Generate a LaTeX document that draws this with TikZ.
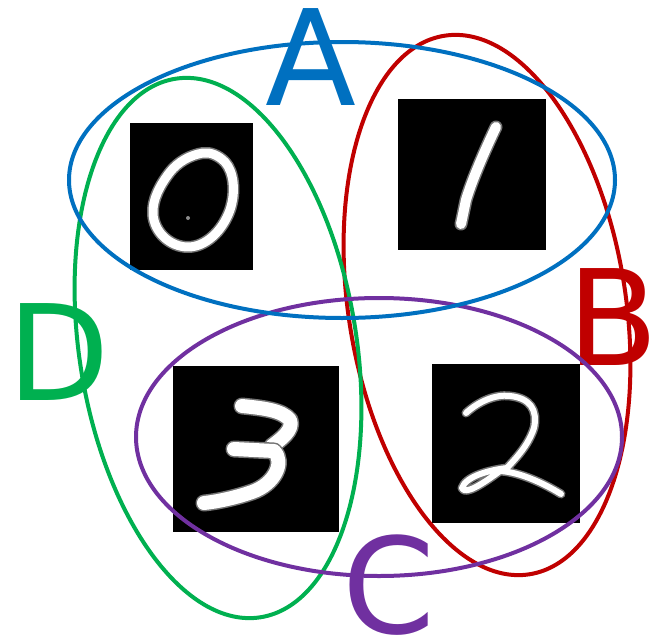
\documentclass[tikz,border=0pt]{standalone}
\usepackage{fontspec}
\setmainfont{DejaVu Sans}
\usepackage{tikz}
\usetikzlibrary{positioning}
\definecolor{setA}{HTML}{0070C0}
\definecolor{setB}{HTML}{C00000}
\definecolor{setC}{HTML}{7030A0}
\definecolor{setD}{HTML}{00B050}
\begin{document}
\begin{tikzpicture}[
        x=1pt, y=-1pt,
        setline/.style={line width=4pt},
        setlabel/.style={font=\fontsize{133}{133}\selectfont, inner sep=0pt, anchor=base},
        imgbox/.style={fill=black, inner sep=0pt, anchor=north west},
        digit/.style={preaction={draw=white!45!black, line width=#1+3pt, line cap=round, line join=round}, draw=white, line width=#1, line cap=round, line join=round}
    ]
    \useasboundingbox (0,0) rectangle (651,637);

    % Bilder (Ziffern)
    \node[imgbox, minimum width=123pt, minimum height=147pt] (imgzero) at (130,123) {};
    \node[imgbox, minimum width=148pt, minimum height=151pt] (imgone) at (398,99) {};
    \node[imgbox, minimum width=166pt, minimum height=166pt] (imgthree) at (173,366) {};
    \node[imgbox, minimum width=148pt, minimum height=159pt] (imgtwo) at (432,364) {};

    % Ziffer 0
    \draw[digit=9pt] (203,153) .. controls (190,155) and (178,162) .. (170,172)
        .. controls (160,185) and (152,200) .. (153,214)
        .. controls (154,232) and (170,247) .. (188,247)
        .. controls (205,247) and (222,232) .. (230,210)
        .. controls (236,192) and (234,172) .. (225,162)
        .. controls (218,155) and (210,152) .. (203,153);
    \fill[white!55!black] (188,218) circle (2pt);
    % Ziffer 1
    \draw[digit=10pt] (496,127) .. controls (485,150) and (472,180) .. (466,200) -- (461,224);
    % Ziffer 3
    \draw[digit=14pt] (242,406) .. controls (262,408) and (282,410) .. (290,420)
        .. controls (294,430) and (280,440) .. (272,446);
    \draw[digit=14pt] (234,449) -- (274,451)
        .. controls (285,462) and (275,484) .. (252,492)
        .. controls (235,498) and (215,502) .. (204,503);
    % Ziffer 2
    \draw[digit=6pt] (466,413) .. controls (478,402) and (495,394) .. (510,396)
        .. controls (530,398) and (538,410) .. (534,428)
        .. controls (528,446) and (516,458) .. (507,468)
        .. controls (490,470) and (466,476) .. (462,488)
        .. controls (465,496) and (485,482) .. (500,471)
        .. controls (520,472) and (545,484) .. (561,494);

    % Beschriftungen
    \node[setlabel, text=setB] (labB) at (613,365) {B};
    \node[setlabel, text=setC] (labC) at (389,633) {C};
    \node[setlabel, text=setD] (labD) at (58.5,400) {D};

    % Mengen
    \draw[setline, draw=setB, rotate around={9:(487,305)}] (487,305) ellipse [x radius=138.6, y radius=272.6];
    \draw[setline, draw=setD, rotate around={9:(218,348)}] (218,348) ellipse [x radius=138.6, y radius=272.6];
    \draw[setline, draw=setC] (379,437) ellipse [x radius=243, y radius=139];
    \draw[setline, draw=setA] (342,180) ellipse [x radius=273, y radius=138];

    \node[setlabel, text=setA] (labA) at (310.5,105) {A};
\end{tikzpicture}
\end{document}
